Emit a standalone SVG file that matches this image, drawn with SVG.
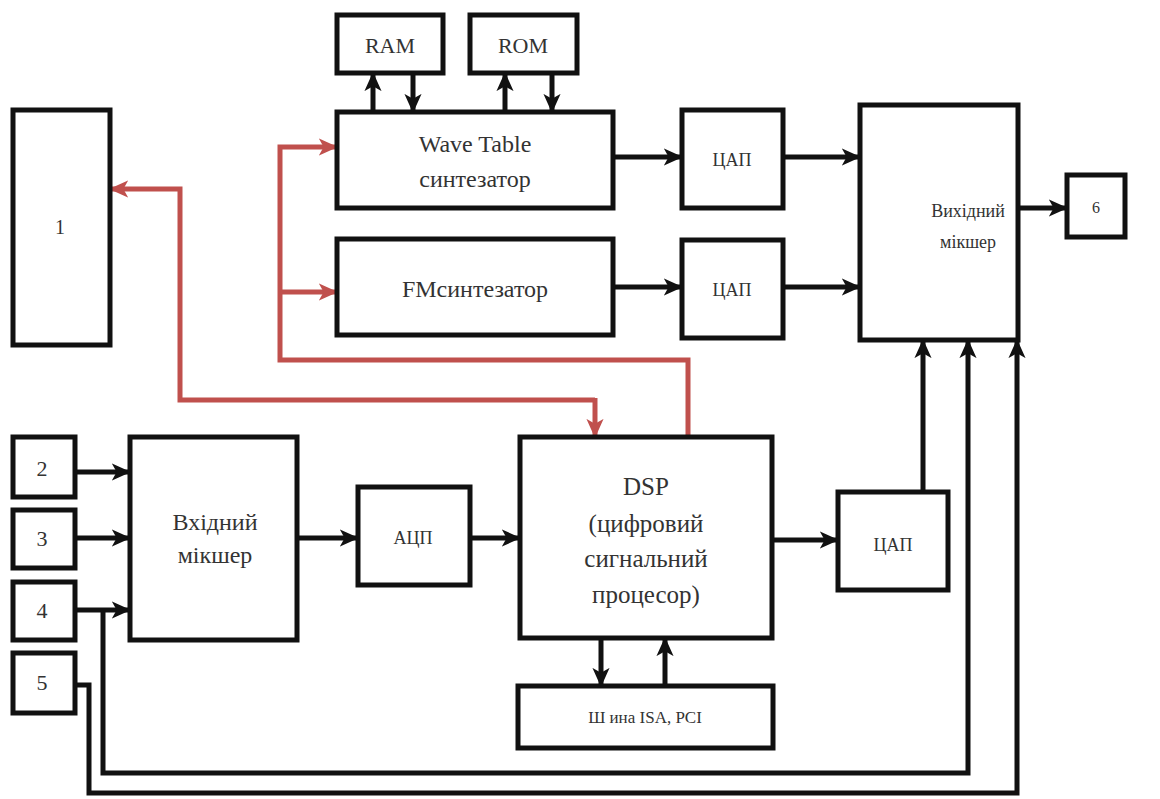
<svg xmlns="http://www.w3.org/2000/svg" width="1160" height="799" viewBox="0 0 1160 799">
<style>
.box{fill:#fff;stroke:#111;stroke-width:5}
.t{font-family:"Liberation Serif","DejaVu Serif",serif;fill:#333;text-anchor:middle}
.c{fill:none;stroke:#111;stroke-width:5}
.r{fill:none;stroke:#c0504d;stroke-width:5}
</style>
<defs>
<marker id="ab" viewBox="0 0 10 10" refX="9" refY="5" markerWidth="19" markerHeight="19" markerUnits="userSpaceOnUse" orient="auto-start-reverse">
<path d="M0,0.5 L10,5 L0,9.5 L2.5,5 z" fill="#111"/>
</marker>
<marker id="ar" viewBox="0 0 10 10" refX="9" refY="5" markerWidth="19" markerHeight="19" markerUnits="userSpaceOnUse" orient="auto-start-reverse">
<path d="M0,0.5 L10,5 L0,9.5 L2.5,5 z" fill="#c0504d"/>
</marker>
</defs>
<rect width="1160" height="799" fill="#fff"/>
<g id="connectors">
<path class="c" d="M373,112 V74" marker-end="url(#ab)"/>
<path class="c" d="M413,73 V111" marker-end="url(#ab)"/>
<path class="c" d="M505,112 V74" marker-end="url(#ab)"/>
<path class="c" d="M552,73 V111" marker-end="url(#ab)"/>
<path class="c" d="M613,157 H681" marker-end="url(#ab)"/>
<path class="c" d="M783,157 H859" marker-end="url(#ab)"/>
<path class="c" d="M613,287 H681" marker-end="url(#ab)"/>
<path class="c" d="M783,287 H859" marker-end="url(#ab)"/>
<path class="c" d="M1018,208 H1066" marker-end="url(#ab)"/>
<path class="c" d="M75,472 H129" marker-end="url(#ab)"/>
<path class="c" d="M75,538 H129" marker-end="url(#ab)"/>
<path class="c" d="M75,610 H129" marker-end="url(#ab)"/>
<path class="c" d="M297,538 H357" marker-end="url(#ab)"/>
<path class="c" d="M470,538 H519" marker-end="url(#ab)"/>
<path class="c" d="M772,540 H837" marker-end="url(#ab)"/>
<path class="c" d="M923,492 V341" marker-end="url(#ab)"/>
<path class="c" d="M601,638 V685" marker-end="url(#ab)"/>
<path class="c" d="M665,686 V639" marker-end="url(#ab)"/>
<path class="c" d="M103,610 V773 H968 V341" marker-end="url(#ab)"/>
<path class="c" d="M75,685 H89 V793 H1017 V341" marker-end="url(#ab)"/>
<path class="r" d="M595,400 H180 V189 H111" marker-end="url(#ar)"/>
<path class="r" d="M595,398 V436" marker-end="url(#ar)"/>
<path class="r" d="M688,437 V360 H280 V147 H336" marker-end="url(#ar)"/>
<path class="r" d="M280,292 H336" marker-end="url(#ar)"/>
</g>
<g id="ram"><rect class="box" x="337" y="15" width="106" height="58"/><text class="t" x="390" y="53" font-size="22">RAM</text></g>
<g id="rom"><rect class="box" x="470" y="15" width="107" height="58"/><text class="t" x="523" y="53" font-size="22">ROM</text></g>
<g id="wavetable"><rect class="box" x="337" y="112" width="276" height="96"/><text class="t" x="475" y="152" font-size="24">Wave Table</text><text class="t" x="475" y="187" font-size="24">синтезатор</text></g>
<g id="fm"><rect class="box" x="337" y="239" width="276" height="96"/><text class="t" x="475" y="297" font-size="24">FMсинтезатор</text></g>
<g id="dac1"><rect class="box" x="682" y="110" width="101" height="98"/><text class="t" x="732" y="166" font-size="18">ЦАП</text></g>
<g id="dac2"><rect class="box" x="682" y="240" width="101" height="98"/><text class="t" x="732" y="296" font-size="18">ЦАП</text></g>
<g id="outmixer"><rect class="box" x="860" y="105" width="158" height="235"/><text class="t" x="968" y="217" font-size="18">Вихідний</text><text class="t" x="968" y="248" font-size="18">мікшер</text></g>
<g id="n6"><rect class="box" x="1067" y="175" width="58" height="62"/><text class="t" x="1096" y="213" font-size="16">6</text></g>
<g id="n1"><rect class="box" x="13" y="110" width="97" height="235"/><text class="t" x="60" y="234" font-size="20">1</text></g>
<g id="n2"><rect class="box" x="13" y="437" width="62" height="60"/><text class="t" x="42" y="476" font-size="22">2</text></g>
<g id="n3"><rect class="box" x="13" y="510" width="62" height="58"/><text class="t" x="42" y="546" font-size="22">3</text></g>
<g id="n4"><rect class="box" x="13" y="582" width="62" height="58"/><text class="t" x="42" y="618" font-size="22">4</text></g>
<g id="n5"><rect class="box" x="13" y="653" width="62" height="60"/><text class="t" x="42" y="690" font-size="22">5</text></g>
<g id="inmixer"><rect class="box" x="130" y="437" width="167" height="203"/><text class="t" x="215" y="530" font-size="24">Вхідний</text><text class="t" x="215" y="563" font-size="24">мікшер</text></g>
<g id="adc"><rect class="box" x="358" y="487" width="112" height="98"/><text class="t" x="413" y="544" font-size="18">АЦП</text></g>
<g id="dsp"><rect class="box" x="520" y="437" width="252" height="201"/><text class="t" x="646" y="495" font-size="25">DSP</text><text class="t" x="646" y="532" font-size="25">(цифровий</text><text class="t" x="646" y="567" font-size="25">сигнальний</text><text class="t" x="646" y="603" font-size="25">процесор)</text></g>
<g id="dac3"><rect class="box" x="838" y="492" width="110" height="98"/><text class="t" x="893" y="551" font-size="18">ЦАП</text></g>
<g id="bus"><rect class="box" x="518" y="686" width="255" height="62"/><text class="t" x="645" y="723" font-size="17">Ш ина ISA, PCI</text></g>
</svg>
